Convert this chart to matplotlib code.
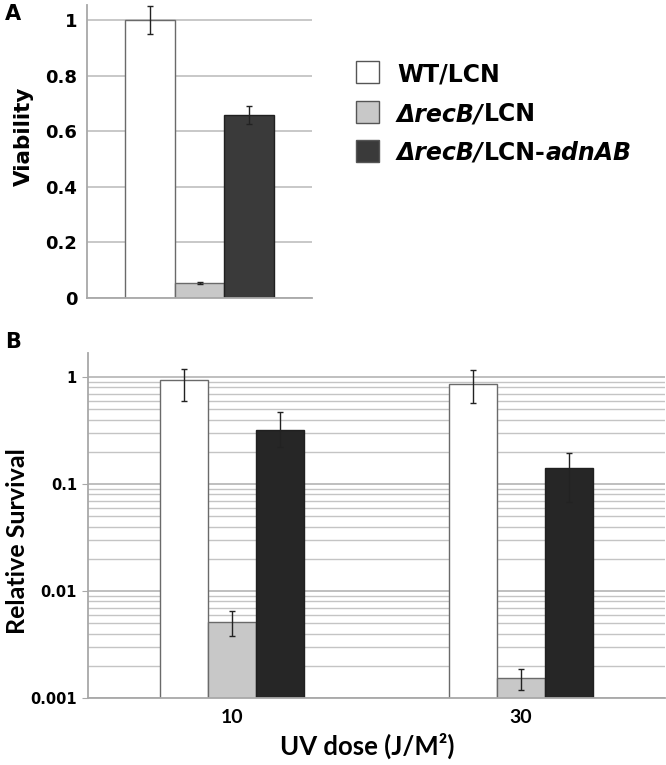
import numpy as np
import matplotlib
matplotlib.use('Agg')
import matplotlib.pyplot as plt
from matplotlib.patches import Rectangle
from matplotlib.ticker import FixedLocator, FixedFormatter, LogLocator, NullFormatter

# data
strains = ['WT/LCN', 'ΔrecB/LCN', 'ΔrecB/LCN-adnAB']
viability = [1.0, 0.055, 0.658]
viability_err = [0.05, 0.003, 0.033]
viab_ticks = [0, 0.2, 0.4, 0.6, 0.8, 1.0]
viab_ticklabels = ['0', '0.2', '0.4', '0.6', '0.8', '1']

doses = ['10', '30']
surv_wt = [0.94, 0.86]
surv_wt_lo = [0.60, 0.575]
surv_wt_hi = [1.19, 1.16]
surv_recb = [0.0051, 0.00153]
surv_recb_lo = [0.0038, 0.00119]
surv_recb_hi = [0.0065, 0.00188]
surv_adn = [0.32, 0.142]
surv_adn_lo = [0.223, 0.068]
surv_adn_hi = [0.47, 0.196]
surv_ticks = [0.001, 0.01, 0.1, 1]
surv_ticklabels = ['0.001', '0.01', '0.1', '1']

# styles
fills_a = ['white', '#c8c8c8', '#3a3a3a']
fills_b = ['white', '#c8c8c8', '#262626']
edges = ['#6a6a6a', '#6a6a6a', '#202020']
axis_col = '#a8a8a8'
grid_col = '#c4c4c4'
sans_b = 'Lato'

W, H = 666, 765
fig = plt.figure(figsize=(W / 100, H / 100), dpi=100)


def px_axes(l, t, r, b):
    return fig.add_axes([l / W, 1 - b / H, (r - l) / W, (b - t) / H])


# ---------------- panel A ----------------
axA = px_axes(87, 5, 312, 298)
bw = 0.222
offs = np.array([-1, 0, 1]) * bw
for i in range(3):
    axA.bar(offs[i], viability[i], width=bw, color=fills_a[i], edgecolor=edges[i],
            linewidth=1.0, zorder=2)
    axA.errorbar(offs[i], viability[i], yerr=viability_err[i], fmt='none',
                 ecolor='#222222', elinewidth=1.0, capsize=2, capthick=1.0, zorder=3)
axA.set_xlim(-0.5, 0.5)
axA.set_ylim(0, 1.054)
axA.yaxis.set_major_locator(FixedLocator(viab_ticks))
axA.yaxis.set_major_formatter(FixedFormatter(viab_ticklabels))
axA.set_xticks([])
axA.grid(axis='y', color=grid_col, linewidth=1.3)
axA.set_axisbelow(True)
for s in ['top', 'right']:
    axA.spines[s].set_visible(False)
for s in ['left', 'bottom']:
    axA.spines[s].set_color(axis_col)
    axA.spines[s].set_linewidth(1.3)
axA.tick_params(axis='y', length=0, pad=7)
for lab in axA.get_yticklabels():
    lab.set_fontfamily('DejaVu Sans')
    lab.set_fontweight('bold')
    lab.set_fontsize(13)
axA.set_ylabel('Viability', fontfamily='DejaVu Sans', fontweight='bold', fontsize=15.5)
axA.yaxis.set_label_coords((34 - 87) / 225, (298 - 136) / 293)

fig.text(5 / W, 1 - 4 / H, 'A', fontfamily='DejaVu Sans', fontweight='bold',
         fontsize=15, va='top', ha='left')

# legend built by hand (mixed italic/upright pieces)
legend_parts = [
    [('WT/LCN', 'normal')],
    [('ΔrecB/', 'italic'), ('LCN', 'normal')],
    [('ΔrecB/', 'italic'), ('LCN-', 'normal'), ('adnAB', 'italic')],
]
row_y = [72, 112, 151]
for i, parts in enumerate(legend_parts):
    yc = row_y[i]
    fig.add_artist(Rectangle((356 / W, 1 - (yc + 11) / H), 23 / W, 22 / H,
                             transform=fig.transFigure, facecolor=fills_a[i],
                             edgecolor='#555555', linewidth=1.0))
    prev = None
    for txt, sty in parts:
        kw = dict(fontfamily='DejaVu Sans', fontweight='bold', fontstyle=sty,
                  fontsize=17, ha='left', annotation_clip=False)
        if prev is None:
            prev = axA.annotate(txt, xy=(397 / W, 1 - (yc + 9) / H),
                                xycoords='figure fraction', va='baseline', **kw)
        else:
            prev = axA.annotate(txt, xy=(1, 0), xycoords=prev, va='bottom', **kw)

# ---------------- panel B ----------------
axB = px_axes(88, 353, 665, 698)
bwb = 0.166
xs = np.arange(len(doses))
series = [(surv_wt, surv_wt_lo, surv_wt_hi),
          (surv_recb, surv_recb_lo, surv_recb_hi),
          (surv_adn, surv_adn_lo, surv_adn_hi)]
axB.set_yscale('log')
for i, (val, lo, hi) in enumerate(series):
    val = np.array(val)
    yerr = [val - np.array(lo), np.array(hi) - val]
    axB.bar(xs + (i - 1) * bwb, val, width=bwb, color=fills_b[i],
            edgecolor=edges[i], linewidth=1.0, zorder=2)
    axB.errorbar(xs + (i - 1) * bwb, val, yerr=yerr, fmt='none', ecolor='#222222',
                 elinewidth=1.0, capsize=2, capthick=1.0, zorder=3)
axB.set_xlim(-0.5, 1.5)
axB.set_ylim(0.001, 1.68)
axB.yaxis.set_major_locator(FixedLocator(surv_ticks))
axB.yaxis.set_major_formatter(FixedFormatter(surv_ticklabels))
axB.yaxis.set_minor_locator(LogLocator(base=10, subs=np.arange(2, 10)))
axB.yaxis.set_minor_formatter(NullFormatter())
axB.set_xticks(xs)
axB.set_xticklabels(doses)
axB.grid(axis='y', which='major', color='#b4b4b4', linewidth=1.2)
axB.grid(axis='y', which='minor', color=grid_col, linewidth=1.0)
axB.set_axisbelow(True)
for s in ['top', 'right']:
    axB.spines[s].set_visible(False)
for s in ['left', 'bottom']:
    axB.spines[s].set_color(axis_col)
    axB.spines[s].set_linewidth(1.3)
axB.tick_params(axis='y', which='major', length=4, color=axis_col, pad=4)
axB.tick_params(axis='y', which='minor', length=0)
axB.tick_params(axis='x', length=0, pad=8)
for lab in axB.get_yticklabels():
    lab.set_fontfamily('DejaVu Sans')
    lab.set_fontweight('bold')
    lab.set_fontsize(10.5)
for lab in axB.get_xticklabels():
    lab.set_fontfamily(sans_b)
    lab.set_fontweight('bold')
    lab.set_fontsize(14)
axB.set_ylabel('Relative Survival', fontfamily=sans_b, fontweight='bold', fontsize=18)
axB.yaxis.set_label_coords((29 - 88) / 577, (698 - 541) / 345)
axB.set_xlabel('UV dose (J/M²)', fontfamily=sans_b, fontweight='bold', fontsize=18.5)
axB.xaxis.set_label_coords((367 - 88) / 577, (698 - 733) / 345)

fig.text(5 / W, 1 - 332 / H, 'B', fontfamily='DejaVu Sans', fontweight='bold',
         fontsize=15, va='top', ha='left')

fig.savefig('out.png', dpi=100)
